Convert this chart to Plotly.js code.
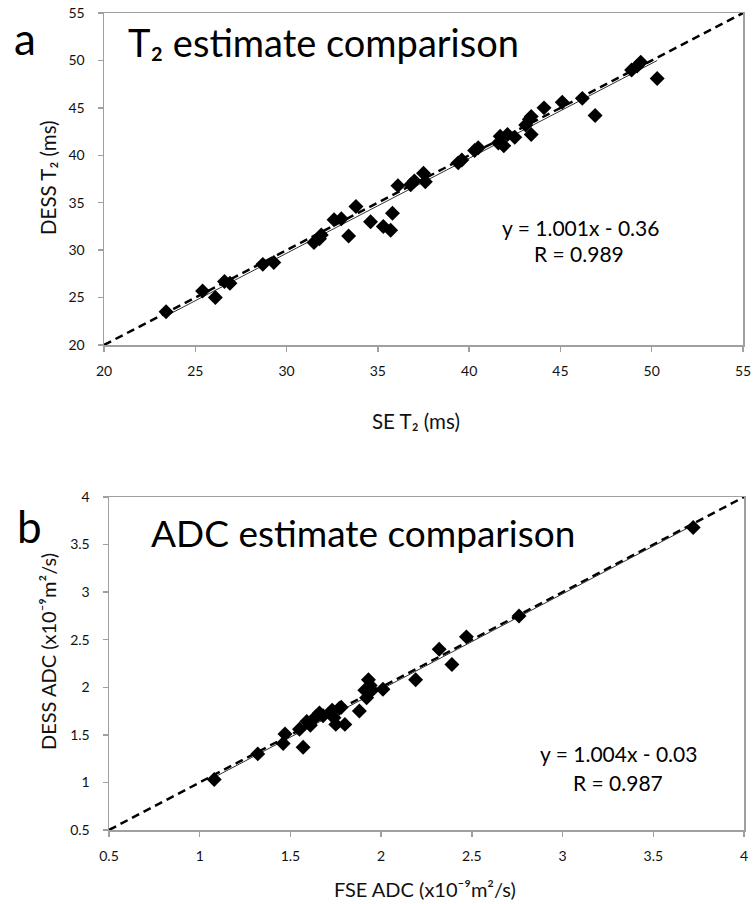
<!DOCTYPE html>
<html>
<head>
<meta charset="utf-8">
<script src="https://cdn.plot.ly/plotly-3.0.1.min.js"></script>
<style>html,body{margin:0;padding:0;background:#fff;}#chart{width:754px;height:904px;}</style>
</head>
<body>
<div id="chart"></div>
<script>
// ---------- Data: panel a (T2, ms) ----------
const seT2 = [23.4, 25.4, 26.1, 26.6, 26.9, 28.7, 29.3, 31.5, 31.8, 31.9, 32.6, 33.0, 33.4, 33.8, 34.6, 35.3, 35.7, 35.8,
  36.1, 36.8, 37.0, 37.5, 37.6, 39.4, 39.6, 40.3, 40.5, 41.6, 41.7, 41.9, 42.1, 42.5, 43.1, 43.3, 43.4, 43.4, 44.1, 45.1,
  46.2, 46.9, 48.9, 49.2, 49.4, 50.3];
const dessT2 = [23.5, 25.7, 25.0, 26.7, 26.5, 28.5, 28.7, 30.8, 31.2, 31.6, 33.2, 33.3, 31.5, 34.6, 33.0, 32.5, 32.1, 33.9,
  36.8, 36.9, 37.3, 38.1, 37.2, 39.2, 39.5, 40.5, 40.8, 41.3, 42.0, 41.0, 42.2, 41.9, 43.2, 43.8, 44.1, 42.2, 45.0, 45.6,
  46.0, 44.2, 49.0, 49.4, 49.8, 48.1];
const t2Range = [20, 55];
const t2Ticks = [20, 25, 30, 35, 40, 45, 50, 55];
const t2Fit = {slope: 1.001, intercept: -0.36};
const t2FitLabel = ["y = 1.001x - 0.36", "R = 0.989"];
const t2Titles = {panel: "T₂ estimate comparison", x: "SE T₂ (ms)", y: "DESS T₂ (ms)"};

// ---------- Data: panel b (ADC, x10^-9 m^2/s) ----------
const fseADC = [1.08, 1.32, 1.46, 1.47, 1.57, 1.55, 1.59, 1.61, 1.64, 1.66, 1.68, 1.72, 1.73, 1.74, 1.75, 1.77, 1.78, 1.80,
  1.88, 1.91, 1.92, 1.93, 1.94, 1.95, 2.01, 2.19, 2.32, 2.39, 2.47, 2.76, 3.72];
const dessADC = [1.03, 1.30, 1.41, 1.51, 1.37, 1.56, 1.64, 1.60, 1.69, 1.73, 1.70, 1.73, 1.76, 1.68, 1.61, 1.78, 1.79, 1.61,
  1.75, 1.97, 1.89, 2.08, 2.02, 1.97, 1.98, 2.08, 2.40, 2.24, 2.53, 2.75, 3.68];
const adcRange = [0.5, 4];
const adcTicks = [0.5, 1, 1.5, 2, 2.5, 3, 3.5, 4];
const adcFit = {slope: 1.004, intercept: -0.03};
const adcFitLabel = ["y = 1.004x - 0.03", "R = 0.987"];
const adcTitles = {panel: "ADC estimate comparison", x: "FSE ADC (x10⁻⁹m²/s)", y: "DESS ADC (x10⁻⁹m²/s)"};

// ---------- helpers ----------
const W = 754, H = 904;
const fx = p => p / W;
const fy = p => 1 - p / H;
const FONT = "Lato, 'Open Sans', sans-serif";
const fitLine = (xs, f) => {
  const lo = Math.min(...xs), hi = Math.max(...xs);
  return {x: [lo, hi], y: [f.slope * lo + f.intercept, f.slope * hi + f.intercept]};
};

const t2F = fitLine(seT2, t2Fit);
const adcF = fitLine(fseADC, adcFit);

const markerStyle = {symbol: 'diamond', size: 11.5, color: '#000'};
const dashStyle = {color: '#000', width: 2.5, dash: '8px,5px'};
const fitStyle = {color: '#333', width: 1};

const traces = [
  {x: t2Range, y: t2Range, mode: 'lines', line: dashStyle, xaxis: 'x', yaxis: 'y', hoverinfo: 'skip'},
  {x: t2F.x, y: t2F.y, mode: 'lines', line: fitStyle, xaxis: 'x', yaxis: 'y'},
  {x: seT2, y: dessT2, mode: 'markers', marker: markerStyle, xaxis: 'x', yaxis: 'y'},
  {x: adcRange, y: adcRange, mode: 'lines', line: dashStyle, xaxis: 'x2', yaxis: 'y2', hoverinfo: 'skip'},
  {x: adcF.x, y: adcF.y, mode: 'lines', line: fitStyle, xaxis: 'x2', yaxis: 'y2'},
  {x: fseADC, y: dessADC, mode: 'markers', marker: markerStyle, xaxis: 'x2', yaxis: 'y2'}
];

const axisBase = {
  showgrid: false, zeroline: false, showline: true, mirror: true,
  linecolor: '#a0a0a0', linewidth: 1.5, ticks: 'outside', ticklen: 5, tickwidth: 1.5, tickcolor: '#a0a0a0',
  tickfont: {family: FONT, size: 14, color: '#111'}, tickmode: 'array', fixedrange: true
};

const layout = {
  width: W, height: H, showlegend: false,
  paper_bgcolor: '#fff', plot_bgcolor: '#fff',
  margin: {l: 0, r: 0, t: 0, b: 0},
  xaxis: Object.assign({}, axisBase, {domain: [fx(104), fx(743)], range: t2Range, tickvals: t2Ticks, anchor: 'y', ticklabelstandoff: 8}),
  yaxis: Object.assign({}, axisBase, {domain: [fy(345), fy(13)], range: t2Range, tickvals: t2Ticks, anchor: 'x', ticklabelstandoff: 10}),
  xaxis2: Object.assign({}, axisBase, {domain: [fx(109), fx(744)], range: adcRange, tickvals: adcTicks, anchor: 'y2', ticklabelstandoff: 8}),
  yaxis2: Object.assign({}, axisBase, {domain: [fy(830), fy(497)], range: adcRange, tickvals: adcTicks, anchor: 'x2', ticklabelstandoff: 10}),
  annotations: [
    // panel a
    {text: 'a', x: fx(25), y: fy(38), font: {family: FONT, size: 44, color: '#000'}},
    {text: t2Titles.panel, x: fx(126), y: fy(42), xanchor: 'left', font: {family: FONT, size: 38, color: '#000'}},
    {text: t2FitLabel[0], x: fx(580), y: fy(227), font: {family: FONT, size: 21, color: '#000'}},
    {text: t2FitLabel[1], x: fx(579), y: fy(254), font: {family: FONT, size: 21, color: '#000'}},
    {text: t2Titles.x, x: fx(416), y: fy(421), font: {family: FONT, size: 20.5, color: '#111'}},
    {text: t2Titles.y, x: fx(48), y: fy(178), textangle: -90, font: {family: FONT, size: 20.5, color: '#111'}},
    // panel b
    {text: 'b', x: fx(29), y: fy(526), font: {family: FONT, size: 44, color: '#000'}},
    {text: adcTitles.panel, x: fx(149), y: fy(532), xanchor: 'left', font: {family: FONT, size: 37, color: '#000'}},
    {text: adcFitLabel[0], x: fx(618), y: fy(753), font: {family: FONT, size: 21, color: '#000'}},
    {text: adcFitLabel[1], x: fx(618), y: fy(782), font: {family: FONT, size: 21, color: '#000'}},
    {text: adcTitles.x, x: fx(425), y: fy(889), font: {family: FONT, size: 20, color: '#111'}},
    {text: adcTitles.y, x: fx(48), y: fy(652), textangle: -90, font: {family: FONT, size: 20, color: '#111'}}
  ].map(a => Object.assign({xref: 'paper', yref: 'paper', showarrow: false, xanchor: 'center', yanchor: 'middle'}, a))
};

Plotly.newPlot('chart', traces, layout, {staticPlot: true, displayModeBar: false});
</script>
</body>
</html>
